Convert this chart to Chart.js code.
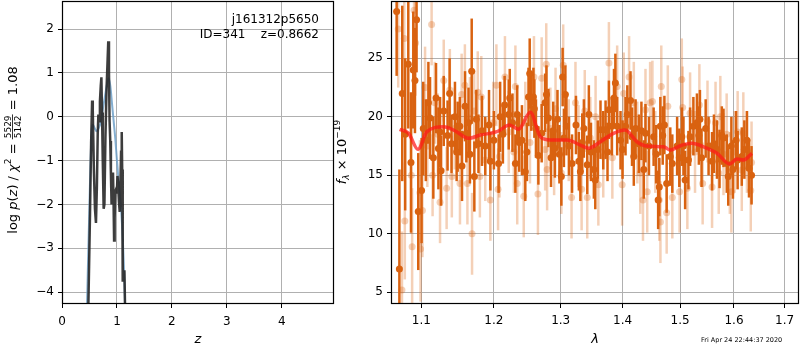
<!DOCTYPE html>
<html>
<head>
<meta charset="utf-8">
<script src="https://cdn.jsdelivr.net/npm/chart.js@4.4.0/dist/chart.umd.min.js"></script>
<style>
  html, body { margin: 0; padding: 0; background: #fff; }
  #wrap { position: relative; width: 800px; height: 350px; }
  canvas { position: absolute; left: 0; top: 0; }
</style>
</head>
<body>
<div id="wrap">
  <canvas id="pz" width="800" height="350"></canvas>
  <canvas id="spec" width="800" height="350"></canvas>
</div>
<script>
// ─── DATA ─────────────────────────────────────────────────
const objName = 'j161312p5650';
const objId = 341;
const zBest = '0.8662';
const chiNum = '5529', chiDen = '5142', chiRatio = '1.08';
const dateText = 'Fri Apr 24 22:44:37 2020';

const zTicks = [0, 1, 2, 3, 4];
const pzTicks = [-4, -3, -2, -1, 0, 1, 2];
const lamTicks = [1.1, 1.2, 1.3, 1.4, 1.5, 1.6, 1.7];
const fluxTicks = [5, 10, 15, 20, 25];

// [z, log p(z)]
const pzCurve = [
  [0.44, -6], [0.48, -4.3], [0.51, -2.2], [0.53, -0.6], [0.548, 0.37], [0.56, 0.15],
  [0.58, -1.2], [0.60, -2.1], [0.618, -2.42], [0.635, -1.6], [0.65, -0.4], [0.662, 0.05],
  [0.675, -0.1], [0.69, 0.35], [0.705, 0.7], [0.717, 0.9], [0.728, 0.1], [0.742, -1.0],
  [0.758, -2.1], [0.772, -2.0], [0.79, -0.5], [0.81, 0.6], [0.83, 1.3], [0.842, 1.72],
  [0.855, 1.0], [0.866, -0.1], [0.878, -0.55], [0.89, -1.3], [0.902, -2.0], [0.915, -1.5],
  [0.928, -1.27], [0.938, -1.9], [0.948, -2.82], [0.958, -2.3], [0.97, -1.7], [0.985, -1.65],
  [0.998, -1.75], [1.01, -1.35], [1.022, -1.55], [1.037, -1.95], [1.05, -2.17], [1.062, -1.6],
  [1.075, -0.8], [1.087, -0.35], [1.095, -1.2], [1.102, -2.8], [1.108, -3.76], [1.12, -3.65],
  [1.136, -3.5], [1.148, -4.4], [1.16, -6]
];
// [z, chi2 based curve]
const chiCurve = [
  [0.42, -6], [0.455, -4.3], [0.48, -3.0], [0.50, -2.0], [0.52, -1.0], [0.545, -0.25],
  [0.56, -0.18], [0.59, -0.25], [0.63, -0.33], [0.67, -0.25], [0.70, -0.15], [0.74, 0.15],
  [0.78, 0.45], [0.82, 0.75], [0.85, 0.88], [0.88, 0.7], [0.91, 0.3], [0.94, -0.1],
  [0.97, -0.5], [1.0, -1.0], [1.04, -1.6], [1.08, -2.2], [1.11, -2.9], [1.135, -3.7],
  [1.15, -4.4], [1.18, -6]
];

// [lambda, flux, err] - grism 1
const darkPoints = [
  [1.068, 29.0, 5.5], [1.0715, 7.0, 8.5], [1.0752, 22.0, 7.5], [1.079, 18.5, 6.5], [1.083, 24.5, 5.5],
  [1.0865, 16.1, 6.0], [1.0895, 24.0, 5.0], [1.0917, 23.1, 4.5], [1.0938, 28.3, 4.5], [1.096, 11.9, 5.0],
  [1.1004, 13.7, 4.5], [1.1026, 19.0, 4.0], [1.106, 18.0, 3.5], [1.1094, 21.2, 3.5], [1.1116, 19.9, 3.5],
  [1.116, 16.5, 3.5], [1.1196, 21.6, 3.0], [1.1228, 17.3, 3.5], [1.125, 18.7, 3.0], [1.1264, 15.4, 3.0],
  [1.13, 20.5, 3.0], [1.1352, 18.4, 3.0], [1.138, 22.0, 3.0], [1.1406, 17.7, 2.5], [1.1453, 20.0, 3.0],
  [1.1476, 17.0, 2.5], [1.149, 18.3, 3.0], [1.152, 19.2, 2.5], [1.155, 15.8, 3.0], [1.1592, 20.9, 3.0],
  [1.161, 18.6, 2.5], [1.164, 19.5, 3.0], [1.166, 16.8, 2.5], [1.1685, 23.9, 4.5], [1.1722, 14.9, 3.0],
  [1.175, 19.8, 2.5], [1.178, 17.7, 2.5], [1.183, 18.8, 3.0], [1.1876, 17.5, 2.5], [1.193, 19.3, 3.0],
  [1.1949, 16.2, 2.5], [1.2, 18.0, 2.5], [1.2068, 16.0, 2.5], [1.209, 20.0, 3.0], [1.213, 18.5, 2.5],
  [1.2155, 21.0, 2.5], [1.2215, 20.2, 3.0], [1.223, 21.6, 2.5], [1.227, 19.5, 2.5], [1.2313, 16.0, 2.5],
  [1.234, 20.2, 2.5], [1.237, 17.8, 2.5], [1.241, 18.0, 3.0], [1.246, 15.3, 2.5], [1.2484, 17.0, 2.5],
  [1.2508, 21.7, 2.5], [1.2526, 23.7, 3.0], [1.255, 21.3, 2.5], [1.2582, 21.7, 2.5], [1.2596, 20.7, 2.5],
  [1.262, 19.0, 2.5], [1.2657, 16.7, 2.5], [1.2707, 18.6, 2.5], [1.2759, 21.2, 2.5], [1.278, 21.9, 2.5],
  [1.281, 19.9, 2.5], [1.285, 16.5, 2.5], [1.2884, 18.8, 2.5], [1.291, 17.3, 2.5], [1.295, 19.8, 2.5],
  [1.298, 16.8, 2.5], [1.301, 14.9, 2.5], [1.303, 23.4, 2.5], [1.305, 18.2, 2.5], [1.3073, 21.9, 2.5],
  [1.309, 19.2, 2.5], [1.313, 17.5, 2.5], [1.3178, 16.0, 2.5], [1.324, 19.3, 2.5], [1.3286, 16.2, 2.5],
  [1.331, 15.3, 2.5], [1.334, 17.8, 2.5], [1.3366, 19.0, 2.5], [1.342, 15.9, 2.5], [1.3446, 20.2, 2.5],
  [1.348, 17.0, 2.5], [1.3527, 15.5, 2.5], [1.355, 14.6, 2.5], [1.359, 17.2, 2.5], [1.3635, 18.9, 2.5],
  [1.368, 18.0, 2.5], [1.3718, 18.9, 2.5], [1.375, 17.0, 2.5], [1.3773, 20.6, 2.5], [1.382, 19.2, 2.5],
  [1.3857, 21.6, 2.5], [1.388, 22.9, 2.5], [1.391, 19.2, 2.5], [1.3966, 18.0, 2.5], [1.4, 17.2, 2.5],
  [1.405, 19.2, 2.5], [1.408, 20.2, 2.5], [1.4134, 21.4, 2.5], [1.416, 18.3, 2.5], [1.419, 16.6, 2.5],
  [1.422, 19.0, 2.5], [1.4276, 17.7, 2.5], [1.432, 18.8, 2.5], [1.4361, 15.5, 2.5], [1.439, 18.6, 2.5],
  [1.445, 17.5, 2.5], [1.4531, 18.3, 2.5], [1.4575, 16.8, 2.5], [1.461, 12.9, 2.5], [1.463, 14.0, 2.5],
  [1.4648, 19.2, 2.5], [1.469, 18.4, 2.5], [1.472, 19.3, 2.5], [1.476, 14.3, 2.5], [1.4824, 16.6, 2.5],
  [1.486, 16.0, 2.5], [1.4946, 17.5, 2.5], [1.4985, 16.5, 2.5], [1.5031, 18.3, 2.5], [1.506, 17.5, 2.5],
  [1.509, 14.6, 2.5], [1.515, 16.3, 2.5], [1.518, 18.3, 2.5], [1.524, 19.2, 2.5], [1.5305, 19.5, 2.5],
  [1.534, 18.4, 2.5], [1.536, 19.8, 2.5], [1.539, 16.5, 2.5], [1.5466, 19.0, 2.5], [1.552, 17.5, 2.5],
  [1.5585, 16.2, 2.5], [1.562, 17.7, 2.5], [1.5677, 17.2, 2.5], [1.5725, 16.4, 2.5], [1.5768, 18.4, 2.5],
  [1.58, 18.2, 2.5], [1.5862, 16.0, 2.5], [1.589, 14.9, 2.5], [1.595, 17.5, 2.5], [1.598, 15.5, 2.5],
  [1.604, 18.0, 2.5], [1.607, 16.3, 2.5], [1.615, 16.6, 2.5], [1.62, 17.2, 2.5], [1.625, 18.0, 2.5],
  [1.629, 15.6, 2.5], [1.634, 15.0, 2.5]
];

// [lambda, flux, err] - grism 2 (faint)
const lightPoints = [
  [1.07, 27.5, 5.0], [1.0748, 5.2, 5.0], [1.0778, 26.7, 5.0], [1.0785, 11.1, 5.0], [1.0869, 15.0, 5.0],
  [1.088, 8.9, 5.0], [1.0905, 29.1, 5.0], [1.0925, 26.3, 4.5], [1.0982, 13.5, 4.5], [1.099, 8.7, 4.5],
  [1.1015, 12.0, 4.0], [1.105, 22.5, 3.5], [1.108, 17.5, 3.5], [1.1137, 27.9, 3.5], [1.115, 15.0, 3.5],
  [1.118, 21.2, 3.5], [1.122, 18.5, 3.5], [1.125, 12.7, 3.5], [1.13, 23.1, 3.5], [1.1339, 13.9, 3.5],
  [1.1383, 22.3, 3.5], [1.141, 14.9, 3.5], [1.145, 19.0, 3.5], [1.1522, 14.3, 3.5], [1.1545, 21.9, 3.5],
  [1.159, 22.7, 3.5], [1.1625, 14.3, 3.5], [1.166, 19.9, 3.5], [1.169, 10.0, 3.5], [1.172, 20.5, 3.5],
  [1.177, 22.1, 3.5], [1.18, 14.9, 3.5], [1.182, 21.7, 3.5], [1.1876, 16.3, 3.5], [1.1949, 12.9, 3.5],
  [1.199, 19.5, 3.5], [1.2036, 22.7, 3.5], [1.206, 13.8, 3.5], [1.208, 16.6, 3.5], [1.216, 23.4, 3.5],
  [1.2215, 18.7, 3.5], [1.229, 17.0, 3.5], [1.2313, 22.6, 3.5], [1.234, 14.3, 3.5], [1.2437, 13.2, 3.5],
  [1.246, 19.5, 3.5], [1.253, 17.8, 3.5], [1.259, 23.4, 3.5], [1.265, 13.4, 3.5], [1.2707, 23.3, 3.5],
  [1.276, 17.2, 3.5], [1.2777, 24.5, 3.5], [1.279, 15.5, 3.5], [1.284, 19.0, 3.5], [1.2898, 16.8, 3.5],
  [1.292, 20.7, 3.5], [1.301, 15.2, 3.5], [1.3039, 24.4, 3.5], [1.3126, 18.0, 3.5], [1.317, 13.1, 3.5],
  [1.3232, 21.2, 3.5], [1.328, 17.5, 3.5], [1.333, 13.8, 3.5], [1.338, 20.5, 3.5], [1.342, 13.1, 3.5],
  [1.347, 18.2, 3.5], [1.3555, 20.0, 3.5], [1.36, 14.2, 3.5], [1.368, 16.6, 3.5], [1.3773, 24.6, 3.5],
  [1.383, 16.5, 3.5], [1.391, 22.6, 3.5], [1.3993, 14.2, 3.5], [1.402, 22.0, 3.5], [1.411, 23.4, 3.5],
  [1.419, 21.2, 3.5], [1.425, 17.8, 3.5], [1.43, 15.2, 3.5], [1.4347, 12.9, 3.5], [1.439, 20.6, 3.5],
  [1.442, 13.6, 3.5], [1.447, 21.2, 3.5], [1.451, 21.3, 3.5], [1.456, 17.0, 3.5], [1.463, 12.9, 3.5],
  [1.465, 11.0, 3.5], [1.4665, 22.6, 3.5], [1.476, 11.8, 3.5], [1.478, 20.9, 3.5], [1.486, 13.1, 3.5],
  [1.499, 13.6, 3.5], [1.503, 23.2, 3.5], [1.5045, 20.8, 3.5], [1.513, 13.9, 3.5], [1.518, 20.3, 3.5],
  [1.527, 17.0, 3.5], [1.535, 21.0, 3.5], [1.541, 14.3, 3.5], [1.55, 19.6, 3.5], [1.5585, 14.0, 3.5],
  [1.565, 19.5, 3.5], [1.571, 15.2, 3.5], [1.574, 20.0, 3.5], [1.58, 16.8, 3.5], [1.586, 18.5, 3.5],
  [1.592, 15.2, 3.5], [1.595, 13.6, 3.5], [1.601, 17.0, 3.5], [1.607, 18.7, 3.5], [1.615, 15.45, 3.5],
  [1.618, 18.6, 3.5], [1.625, 17.0, 3.5], [1.6325, 13.7, 3.5], [1.634, 16.1, 3.5]
];

// [lambda, model flux]
const modelCurve = [
  [1.0718, 18.93], [1.0834, 18.59], [1.0956, 17.22], [1.1075, 18.73], [1.1298, 19.15],
  [1.1458, 18.79], [1.1642, 18.16], [1.1806, 18.44], [1.2044, 18.73], [1.2228, 19.3],
  [1.236, 18.93], [1.2535, 20.38], [1.2686, 18.3], [1.2839, 18.02], [1.3098, 18.02],
  [1.3309, 17.59], [1.3442, 17.31], [1.3632, 17.87], [1.385, 18.59], [1.4045, 18.87],
  [1.4244, 17.87], [1.4416, 17.5], [1.4706, 17.44], [1.4824, 17.16], [1.5002, 17.53],
  [1.5213, 17.74], [1.5428, 17.44], [1.5677, 16.88], [1.5916, 15.97], [1.6057, 16.39],
  [1.6185, 16.31], [1.6348, 16.88]
];

// ─── SHARED ───────────────────────────────────────────────
const FONT = "'DejaVu Sans'";
Chart.defaults.font.family = "DejaVu Sans";
Chart.defaults.color = '#000';
const GRID = { color: '#b0b0b0', lineWidth: 1, tickColor: '#000', tickLength: 4 };
const minus = v => (v < 0 ? '\u2212' + Math.abs(v) : '' + v);
// matplotlib-like fixed frame: no extra label padding from Chart.js
const fitX = s => { s.height = 46; s.paddingLeft = 0; s.paddingRight = 0; };
const fitY = w => s => { s.width = w; s.paddingTop = 0; s.paddingBottom = 0; };

const boxPlugin = {
  id: 'box',
  afterDraw(chart) {
    const { ctx, chartArea: a } = chart;
    ctx.save();
    ctx.strokeStyle = '#000';
    ctx.lineWidth = 1.2;
    ctx.strokeRect(Math.round(a.left) + 0.5, Math.round(a.top) + 0.5,
      Math.round(a.right - a.left) - 1, Math.round(a.bottom - a.top) - 1);
    ctx.restore();
  }
};

const errBars = {
  id: 'errBars',
  beforeDatasetDraw(chart, args) {
    const ds = chart.data.datasets[args.index];
    if (!ds.errs) return;
    const { ctx, chartArea: a, scales: { x, y } } = chart;
    ctx.save();
    ctx.beginPath();
    ctx.rect(a.left, a.top, a.right - a.left, a.bottom - a.top);
    ctx.clip();
    ctx.strokeStyle = ds.errColor;
    ctx.lineWidth = 2.5;
    ds.data.forEach((p, i) => {
      const px = x.getPixelForValue(p.x);
      ctx.beginPath();
      ctx.moveTo(px, y.getPixelForValue(p.y - ds.errs[i]));
      ctx.lineTo(px, y.getPixelForValue(p.y + ds.errs[i]));
      ctx.stroke();
    });
    ctx.restore();
  }
};

// draws a run of text pieces rotated by -90deg, centred on (cx, cy)
function drawRotated(ctx, cx, cy, parts, base) {
  ctx.save();
  ctx.translate(cx, cy);
  ctx.rotate(-Math.PI / 2);
  ctx.fillStyle = '#000';
  ctx.textBaseline = 'alphabetic';
  ctx.textAlign = 'left';
  let total = 0;
  parts.forEach(p => {
    ctx.font = p.f;
    p.w = p.frac
      ? Math.max(ctx.measureText(p.frac[0]).width, ctx.measureText(p.frac[1]).width) + 2
      : ctx.measureText(p.t).width;
    total += p.w;
  });
  let x = -total / 2;
  parts.forEach(p => {
    ctx.font = p.f;
    if (p.frac) {
      const bar = base - 4.5;
      ctx.textAlign = 'center';
      ctx.fillText(p.frac[0], x + p.w / 2, bar - 1.5);
      ctx.fillText(p.frac[1], x + p.w / 2, bar + 8);
      ctx.textAlign = 'left';
      ctx.fillRect(x, bar - 0.4, p.w, 0.8);
    } else {
      ctx.fillText(p.t, x, base + (p.dy || 0));
    }
    x += p.w;
  });
  ctx.restore();
}

// ─── P(z) PANEL ───────────────────────────────────────────
const pzText = {
  id: 'pzText',
  afterDraw(chart) {
    const { ctx, chartArea: a } = chart;
    ctx.save();
    ctx.fillStyle = '#000';
    ctx.font = `12px ${FONT}`;
    ctx.textAlign = 'right';
    ctx.textBaseline = 'middle';
    ctx.fillText(objName, 319, 20);
    ctx.fillText(`ID=${objId}    z=${zBest}`, 319, 35);
    ctx.font = `italic 13px ${FONT}`;
    ctx.textAlign = 'center';
    ctx.fillText('z', (a.left + a.right) / 2, 340);
    ctx.restore();
    const n = `13px ${FONT}`, it = `italic 13px ${FONT}`, sm = `9px ${FONT}`;
    drawRotated(ctx, 12, 150, [
      { t: 'log ', f: n }, { t: 'p', f: it }, { t: '(', f: n }, { t: 'z', f: it },
      { t: ') / ', f: n }, { t: '\u03c7', f: it }, { t: '2', f: sm, dy: -6 },
      { t: ' = ', f: n }, { frac: [chiNum, chiDen], f: sm }, { t: ' = ' + chiRatio, f: n }
    ], 5);
  }
};

new Chart(document.getElementById('pz'), {
  type: 'scatter',
  data: {
    datasets: [
      {
        data: pzCurve.map(p => ({ x: p[0], y: p[1] })),
        showLine: true, pointRadius: 0, borderColor: 'rgba(40,40,40,0.9)', borderWidth: 2.5,
        tension: 0, order: 0
      },
      {
        data: chiCurve.map(p => ({ x: p[0], y: p[1] })),
        showLine: true, pointRadius: 0, borderColor: 'rgba(110,160,200,0.85)', borderWidth: 2,
        cubicInterpolationMode: 'monotone', order: 1
      }
    ]
  },
  options: {
    responsive: false,
    animation: false,
    layout: { autoPadding: false, padding: { left: 0, right: 466, top: 1, bottom: 0 } },
    plugins: { legend: { display: false }, tooltip: { enabled: false } },
    scales: {
      x: {
        type: 'linear', min: 0, max: 4.95,
        afterBuildTicks: s => { s.ticks = zTicks.map(v => ({ value: v })); },
        afterFit: fitX,
        grid: GRID, border: { display: false },
        ticks: { font: { size: 12 }, color: '#000', padding: 7, maxRotation: 0, autoSkip: false, callback: v => minus(v) }
      },
      y: {
        type: 'linear', min: -4.27, max: 2.64,
        afterBuildTicks: s => { s.ticks = pzTicks.map(v => ({ value: v })); },
        afterFit: fitY(62),
        grid: GRID, border: { display: false },
        ticks: { font: { size: 12 }, color: '#000', padding: 4, autoSkip: false, callback: v => minus(v) }
      }
    }
  },
  plugins: [boxPlugin, pzText]
});

// ─── SPECTRUM PANEL ───────────────────────────────────────
const specText = {
  id: 'specText',
  afterDraw(chart) {
    const { ctx, chartArea: a } = chart;
    ctx.save();
    ctx.fillStyle = '#000';
    ctx.font = `italic 13px ${FONT}`;
    ctx.textAlign = 'center';
    ctx.textBaseline = 'middle';
    ctx.fillText('\u03bb', (a.left + a.right) / 2, 340);
    ctx.font = `6.5px ${FONT}`;
    ctx.textAlign = 'left';
    ctx.fillText(dateText, 701, 340);
    ctx.restore();
    const n = `13px ${FONT}`, it = `italic 13px ${FONT}`, sm = `9px ${FONT}`, smi = `italic 9px ${FONT}`;
    drawRotated(ctx, 341, 152, [
      { t: 'f', f: it }, { t: '\u03bb', f: smi, dy: 3 }, { t: ' \u00d7 10', f: n }, { t: '\u221219', f: sm, dy: -6 }
    ], 5);
  }
};

const ORANGE = 'rgb(217,98,16)';
const ORANGE_LT = 'rgba(217,98,16,0.3)';

new Chart(document.getElementById('spec'), {
  type: 'scatter',
  data: {
    datasets: [
      {
        data: modelCurve.map(p => ({ x: p[0], y: p[1] })),
        showLine: true, pointRadius: 0, borderColor: 'rgba(255,25,25,0.72)', borderWidth: 3.5,
        cubicInterpolationMode: 'monotone', order: 0
      },
      {
        data: darkPoints.map(p => ({ x: p[0], y: p[1] })),
        errs: darkPoints.map(p => p[2]), errColor: ORANGE,
        pointRadius: 3.5, pointBackgroundColor: ORANGE, pointBorderWidth: 0, order: 1
      },
      {
        data: lightPoints.map(p => ({ x: p[0], y: p[1] })),
        errs: lightPoints.map(p => p[2]), errColor: ORANGE_LT,
        pointRadius: 3.5, pointBackgroundColor: ORANGE_LT, pointBorderWidth: 0, order: 2
      }
    ]
  },
  options: {
    responsive: false,
    animation: false,
    layout: { autoPadding: false, padding: { left: 340, right: 1, top: 1, bottom: 0 } },
    plugins: { legend: { display: false }, tooltip: { enabled: false } },
    scales: {
      x: {
        type: 'logarithmic', min: 1.0608, max: 1.7296,
        afterBuildTicks: s => { s.ticks = lamTicks.map(v => ({ value: v })); },
        afterFit: fitX,
        grid: GRID, border: { display: false },
        ticks: { font: { size: 12 }, color: '#000', padding: 6, maxRotation: 0, autoSkip: false, callback: v => Number(v).toFixed(1) }
      },
      y: {
        type: 'linear', min: 4.0, max: 29.9,
        afterBuildTicks: s => { s.ticks = fluxTicks.map(v => ({ value: v })); },
        afterFit: fitY(51),
        grid: GRID, border: { display: false },
        ticks: { font: { size: 12 }, color: '#000', padding: 4, autoSkip: false, callback: v => minus(v) }
      }
    }
  },
  plugins: [boxPlugin, errBars, specText]
});
</script>
</body>
</html>
